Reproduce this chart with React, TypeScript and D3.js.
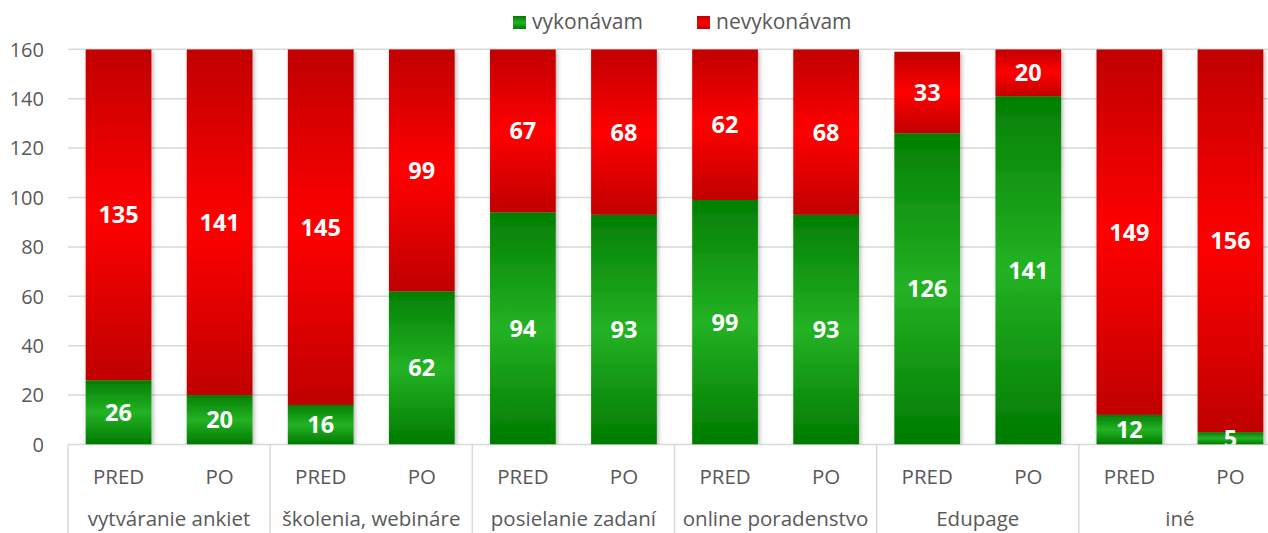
import React from "react";
import * as d3 from "d3";

const groups = ["vytváranie ankiet", "školenia, webináre", "posielanie zadaní", "online poradenstvo", "Edupage", "iné"];
const periods = ["PRED", "PO"];
const vykonavam = [26, 20, 16, 62, 94, 93, 99, 93, 126, 141, 12, 5];
const nevykonavam = [135, 141, 145, 99, 67, 68, 62, 68, 33, 20, 149, 156];
const yTicks = [0, 20, 40, 60, 80, 100, 120, 140, 160];
const seriesNames = ["vykonávam", "nevykonávam"];

const W = 1268, H = 533;
const left = 68, right = 1281, top = 49.3, bottom = 444.5;
const FONT = "'Open Sans', sans-serif";

export default function App() {
  const x0 = d3.scaleBand<string>().domain(groups).range([left, right]).padding(0);
  const x1 = d3.scaleBand<string>().domain(periods).range([0, x0.bandwidth()]).paddingInner(0.35).paddingOuter(0.175);
  const y = d3.scaleLinear().domain([0, 160]).range([bottom, top]);

  const bars: any[] = [];
  groups.forEach((g, gi) => {
    periods.forEach((p, pi) => {
      const i = gi * 2 + pi;
      const bx = (x0(g) as number) + (x1(p) as number);
      const v1 = vykonavam[i], v2 = nevykonavam[i];
      const g0 = y(0), g1 = y(v1);
      const r0 = g1, r1 = Math.max(y(v1 + v2), top);
      bars.push({ key: i, bx, bw: x1.bandwidth(), g0, g1, r0, r1, v1, v2 });
    });
  });

  return (
    <svg width={W} height={H} style={{ position: "absolute", left: 0, top: 0, background: "#fff" }} fontFamily={FONT}>
      <defs>
        <linearGradient id="gGreen" x1="0" y1="0" x2="0" y2="1">
          <stop offset="0" stopColor="#037f03" />
          <stop offset="0.5" stopColor="#24b224" />
          <stop offset="1" stopColor="#007a00" />
        </linearGradient>
        <linearGradient id="gRed" x1="0" y1="0" x2="0" y2="1">
          <stop offset="0" stopColor="#c00000" />
          <stop offset="0.5" stopColor="#ff0000" />
          <stop offset="1" stopColor="#c00000" />
        </linearGradient>
        <linearGradient id="lGreen" x1="0" y1="0" x2="0" y2="1">
          <stop offset="0" stopColor="#007a00" />
          <stop offset="0.5" stopColor="#24b224" />
          <stop offset="1" stopColor="#007a00" />
        </linearGradient>
        <filter id="shadow" x="-20%" y="-5%" width="140%" height="110%">
          <feDropShadow dx="1.5" dy="1.5" stdDeviation="2" floodColor="#000" floodOpacity="0.3" />
        </filter>
        <clipPath id="plotClip">
          <rect x={left} y={top} width={right - left} height={bottom - top} />
        </clipPath>
      </defs>

      {yTicks.map((t) => (
        <line key={t} x1={left} x2={W} y1={y(t)} y2={y(t)} stroke="#d9d9d9" strokeWidth={1.5} />
      ))}
      {yTicks.map((t) => (
        <text key={"l" + t} x={44} y={y(t)} dy="0.36em" textAnchor="end" fontSize={20} fill="#595959">{t}</text>
      ))}

      <g clipPath="url(#plotClip)">
        {bars.map((b) => (
          <g key={b.key} filter="url(#shadow)">
            <rect x={b.bx} y={b.g1} width={b.bw} height={b.g0 - b.g1} fill="url(#gGreen)" />
            <rect x={b.bx} y={b.r1} width={b.bw} height={b.r0 - b.r1} fill="url(#gRed)" />
          </g>
        ))}
        {bars.map((b) => (
          <g key={"t" + b.key} fontSize={23.5} fontWeight={700} fill="#fff" textAnchor="middle">
            <text x={b.bx + b.bw / 2} y={(b.g0 + b.g1) / 2} dy="0.36em">{b.v1}</text>
            <text x={b.bx + b.bw / 2} y={(b.r0 + b.r1) / 2} dy="0.36em">{b.v2}</text>
          </g>
        ))}
      </g>

      {groups.map((g, gi) => (
        <line key={"sep" + gi} x1={(x0(g) as number)} x2={(x0(g) as number)} y1={bottom} y2={H} stroke="#d9d9d9" strokeWidth={1.5} />
      ))}
      {groups.map((g) =>
        periods.map((p) => (
          <text key={g + p} x={(x0(g) as number) + (x1(p) as number) + x1.bandwidth() / 2} y={484} textAnchor="middle" fontSize={20.5} fill="#595959">{p}</text>
        ))
      )}
      {groups.map((g) => (
        <text key={"g" + g} x={(x0(g) as number) + x0.bandwidth() / 2} y={526} textAnchor="middle" fontSize={20.5} fill="#595959">{g}</text>
      ))}

      <rect x={513} y={16} width={13} height={13} fill="url(#lGreen)" />
      <text x={532} y={29} fontSize={21} fill="#595959">{seriesNames[0]}</text>
      <rect x={697} y={16} width={13} height={13} fill="url(#gRed)" />
      <text x={716} y={29} fontSize={21} fill="#595959">{seriesNames[1]}</text>
    </svg>
  );
}
